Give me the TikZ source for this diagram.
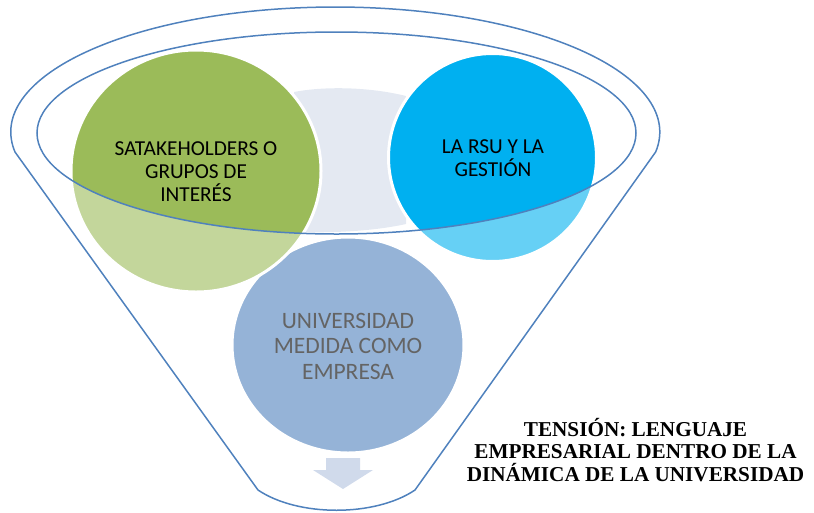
\documentclass[tikz,border=0pt]{standalone}
\usepackage{fontspec}
\setmainfont{Carlito}
\newfontfamily\tnr{Liberation Serif}
\definecolor{funnel}{HTML}{4F81BD}
\definecolor{greenD}{HTML}{9BBB59}
\definecolor{greenL}{HTML}{C3D69B}
\definecolor{cyanD}{HTML}{00B0F0}
\definecolor{cyanL}{HTML}{66D0F5}
\definecolor{bgray}{HTML}{95B3D7}
\definecolor{pale}{HTML}{E4E9F2}
\definecolor{arrowc}{HTML}{D0DAEB}
\definecolor{txtgray}{HTML}{646464}
\tikzset{
  rim/.style={draw=funnel, line width=1.5pt},
  whiteedge/.style={draw=white, line width=3pt},
  ctext/.style={align=center, inner sep=0pt, font=\fontsize{21.3}{23}\selectfont},
  btext/.style={align=center, inner sep=0pt, text=txtgray, font=\fontsize{23.5}{25.5}\selectfont},
  ttext/.style={align=center, inner sep=0pt, font=\tnr\bfseries\fontsize{21.2}{22.8}\selectfont}
}
\begin{document}
\begin{tikzpicture}[x=1pt,y=1pt]
\useasboundingbox (0,0) rectangle (814,-512);
% pale background band
\fill[pale] (294,-92) .. controls (325,-86) and (370,-87) .. (406,-96) -- (406,-224) .. controls (370,-232) and (325,-233) .. (294,-232) -- cycle;
% bottom circle
\path[fill=bgray, whiteedge] (348,-345) ellipse [x radius=116, y radius=108];
% green circle
\fill[greenL] (196,-171) ellipse [x radius=125, y radius=121];
\begin{scope}
  \clip (336.5,-133) ellipse [x radius=299.5, y radius=101];
  \fill[greenD] (196,-171) ellipse [x radius=125, y radius=121];
\end{scope}
\draw[whiteedge] (196,-171) ellipse [x radius=125, y radius=121];
% cyan circle
\fill[cyanL] (492.5,-157.5) ellipse [x radius=104, y radius=104];
\begin{scope}
  \clip (336.5,-133) ellipse [x radius=299.5, y radius=101];
  \fill[cyanD] (492.5,-157.5) ellipse [x radius=104, y radius=104];
\end{scope}
\draw[whiteedge] (492.5,-157.5) ellipse [x radius=104, y radius=104];
% texts
\node[ctext] (stake) at (196,-172) {SATAKEHOLDERS O\\GRUPOS DE\\INTERÉS};
\node[ctext] (rsu) at (493,-158) {LA RSU Y LA\\GESTIÓN};
\node[btext] (univ) at (348,-346) {UNIVERSIDAD\\MEDIDA COMO\\EMPRESA};
% arrow
\fill[arrowc] (326,-458) -- (360,-458) -- (360,-470) -- (373,-470) -- (343,-489) -- (313,-470) -- (326,-470) -- cycle;
% funnel outline
\draw[rim, line join=round] (15,-152) arc [start angle=189.2, end angle=-9.2, x radius=324.5, y radius=125]
  -- (415,-490) .. controls (375,-517) and (298,-517) .. (258,-490) -- cycle;
\draw[rim] (336.5,-133) ellipse [x radius=299.5, y radius=101];
% tension text
\node[ttext] (tension) at (635.5,-450) {TENSIÓN: LENGUAJE\\EMPRESARIAL DENTRO DE LA\\DINÁMICA DE LA UNIVERSIDAD};
\end{tikzpicture}
\end{document}
